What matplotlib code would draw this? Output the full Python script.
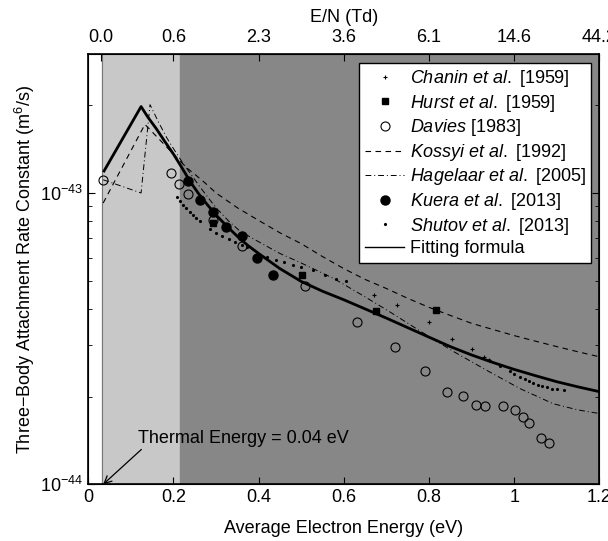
import numpy as np
import matplotlib
matplotlib.use("Agg")
import matplotlib.pyplot as plt

plt.rcParams['font.family'] = ['Liberation Sans', 'DejaVu Sans']
plt.rcParams['mathtext.fontset'] = 'custom'
plt.rcParams['mathtext.rm'] = 'Liberation Sans'
plt.rcParams['mathtext.it'] = 'Liberation Sans:italic'

# data (x in eV, y in m^6/s)
chanin_x = [0.671, 0.724, 0.799, 0.853, 0.900, 0.930, 0.940]
chanin_y = [4.47e-44, 4.13e-44, 3.60e-44, 3.16e-44, 2.92e-44, 2.73e-44, 2.67e-44]

hurst_x = [0.294, 0.501, 0.676, 0.816]
hurst_y = [7.89e-44, 5.22e-44, 3.92e-44, 3.97e-44]

davies_x = [0.035, 0.194, 0.214, 0.235, 0.292, 0.360, 0.509, 0.630, 0.721, 0.791,
            0.842, 0.879, 0.910, 0.932, 0.973, 1.001, 1.021, 1.036, 1.062, 1.083]
davies_y = [1.11e-43, 1.17e-43, 1.07e-43, 9.94e-44, 8.10e-44, 6.60e-44, 4.80e-44,
            3.60e-44, 2.96e-44, 2.45e-44, 2.08e-44, 2.01e-44, 1.87e-44, 1.86e-44,
            1.86e-44, 1.80e-44, 1.70e-44, 1.62e-44, 1.44e-44, 1.39e-44]

kossyi_x = [0.035, 0.133, 0.231, 0.25, 0.275, 0.30, 0.35, 0.40, 0.45, 0.50, 0.55,
            0.60, 0.65, 0.70, 0.75, 0.80, 0.85, 0.90, 0.95, 1.00, 1.05, 1.10, 1.15, 1.2]
kossyi_y = [9.24e-44, 1.72e-43, 1.22e-43, 1.16e-43, 1.08e-43, 1.0e-43, 8.9e-44,
            8.05e-44, 7.3e-44, 6.7e-44, 6.05e-44, 5.5e-44, 5.05e-44, 4.7e-44,
            4.35e-44, 4.05e-44, 3.8e-44, 3.57e-44, 3.4e-44, 3.24e-44, 3.1e-44,
            2.97e-44, 2.85e-44, 2.74e-44]

hagelaar_x = [0.035, 0.124, 0.145, 0.165, 0.184, 0.20, 0.22, 0.239, 0.26, 0.28, 0.30,
              0.33, 0.356, 0.40, 0.45, 0.50, 0.575, 0.65, 0.709, 0.779, 0.857,
              0.936, 1.014, 1.092, 1.15, 1.2]
hagelaar_y = [1.11e-43, 1.0e-43, 2.01e-43, 1.75e-43, 1.55e-43, 1.42e-43, 1.28e-43,
              1.17e-43, 1.06e-43, 9.7e-44, 8.9e-44, 8.0e-44, 7.4e-44, 6.8e-44,
              6.2e-44, 5.75e-44, 5.1e-44, 4.4e-44, 3.9e-44, 3.36e-44, 2.86e-44,
              2.46e-44, 2.13e-44, 1.89e-44, 1.8e-44, 1.75e-44]

kuera_x = [0.235, 0.262, 0.292, 0.323, 0.360, 0.397, 0.434]
kuera_y = [1.10e-43, 9.48e-44, 8.58e-44, 7.62e-44, 7.10e-44, 5.98e-44, 5.24e-44]

shutov_x = [0.208, 0.215, 0.222, 0.230, 0.238, 0.246, 0.254, 0.262,
            0.286, 0.300, 0.315, 0.330, 0.345, 0.360, 0.372,
            0.420, 0.440, 0.460, 0.480, 0.500, 0.528, 0.555, 0.581, 0.605,
            0.940, 0.966, 0.990, 1.000, 1.014, 1.025, 1.035, 1.045, 1.055,
            1.065, 1.077, 1.090, 1.100, 1.116]
shutov_y = [9.7e-44, 9.4e-44, 9.1e-44, 8.85e-44, 8.6e-44, 8.4e-44, 8.2e-44, 8.0e-44,
            7.5e-44, 7.3e-44, 7.1e-44, 6.95e-44, 6.8e-44, 6.65e-44, 6.55e-44,
            6.05e-44, 5.9e-44, 5.78e-44, 5.65e-44, 5.55e-44, 5.45e-44, 5.25e-44,
            5.06e-44, 4.97e-44,
            2.67e-44, 2.55e-44, 2.44e-44, 2.40e-44, 2.33e-44, 2.30e-44, 2.26e-44,
            2.23e-44, 2.20e-44, 2.18e-44, 2.15e-44, 2.13e-44, 2.12e-44, 2.11e-44]

fit_x = [0.037, 0.124, 0.14, 0.16, 0.18, 0.20, 0.22, 0.24, 0.26, 0.28, 0.30, 0.325,
         0.35, 0.375, 0.40, 0.45, 0.50, 0.55, 0.60, 0.65, 0.70, 0.75, 0.80, 0.85,
         0.90, 0.95, 1.00, 1.05, 1.10, 1.15, 1.20]
fit_y = [1.19e-43, 1.98e-43, 1.82e-43, 1.66e-43, 1.50e-43, 1.36e-43, 1.22e-43,
         1.09e-43, 9.9e-44, 9.1e-44, 8.4e-44, 7.7e-44, 7.1e-44, 6.6e-44, 6.2e-44,
         5.5e-44, 4.97e-44, 4.6e-44, 4.3e-44, 4.0e-44, 3.72e-44, 3.45e-44, 3.2e-44,
         2.97e-44, 2.78e-44, 2.62e-44, 2.48e-44, 2.36e-44, 2.25e-44, 2.16e-44, 2.08e-44]

top_pos = [0.03, 0.2, 0.4, 0.6, 0.8, 1.0, 1.2]
top_labels = ['0.0', '0.6', '2.3', '3.6', '6.1', '14.6', '44.2']

fig = plt.figure(figsize=(6.08, 5.41), dpi=100)
ax = fig.add_axes([0.1452, 0.1048, 0.8405, 0.7954])

ax.axvspan(0.032, 0.215, color='#c8c8c8', zorder=0)
ax.axvspan(0.215, 1.2, color='#878787', zorder=0)
ax.axvline(0.032, color='#777777', lw=0.8, zorder=0.5)

ax.plot(chanin_x, chanin_y, '+', color='k', ms=3, mew=0.8, ls='none',
        label=r'$\it{Chanin\ et\ al.}$ [1959]')
ax.plot(hurst_x, hurst_y, 's', color='k', ms=5, ls='none',
        label=r'$\it{Hurst\ et\ al.}$ [1959]')
ax.plot(davies_x, davies_y, 'o', mfc='none', mec='k', ms=6.5, mew=0.8, ls='none',
        label=r'$\it{Davies}$ [1983]')
ax.plot(kossyi_x, kossyi_y, '--', color='k', lw=0.8, dashes=(5, 4),
        label=r'$\it{Kossyi\ et\ al.}$ [1992]')
ax.plot(hagelaar_x, hagelaar_y, '-.', color='k', lw=0.7, dashes=(6, 3, 1, 3),
        label=r'$\it{Hagelaar\ et\ al.}$ [2005]')
ax.plot(kuera_x, kuera_y, 'o', color='k', ms=6.5, ls='none',
        label=r'$\it{Kuera\ et\ al.}$ [2013]')
ax.plot(shutov_x, shutov_y, '.', color='k', ms=2.5, ls='none',
        label=r'$\it{Shutov\ et\ al.}$ [2013]')
ax.plot(fit_x, fit_y, '-', color='k', lw=2, label='Fitting formula')

ax.set_yscale('log')
ax.set_xlim(0, 1.2)
ax.set_ylim(1e-44, 3e-43)
ax.set_xticks([0, 0.2, 0.4, 0.6, 0.8, 1.0, 1.2])
ax.set_xticklabels(['0', '0.2', '0.4', '0.6', '0.8', '1', '1.2'])
ax.set_yticks([1e-44, 1e-43])
ax.set_yticklabels([r'$10^{-44}$', r'$10^{-43}$'])
ax.tick_params(axis='both', which='both', direction='in', right=True, labelsize=13)
ax.tick_params(axis='x', top=False)
ax.tick_params(which='major', length=5)
ax.tick_params(which='minor', length=3)
ax.set_xlabel('Average Electron Energy (eV)', fontsize=13, labelpad=10)
ax.set_ylabel('Three\u2212Body Attachment Rate Constant (m$^6$/s)', fontsize=13)
ax.yaxis.set_label_coords(-0.10, 0.5)
for s in ax.spines.values():
    s.set_linewidth(1.2)

ax2 = ax.twiny()
ax2.set_xlim(0, 1.2)
ax2.set_xticks(top_pos)
ax2.set_xticklabels(top_labels)
ax2.tick_params(axis='x', direction='in', labelsize=13, length=5, pad=6)
ax2.set_xlabel('E/N (Td)', fontsize=13, labelpad=5)

ax.annotate('Thermal Energy = 0.04 eV', xy=(0.035, 1e-44), xytext=(0.117, 1.44e-44),
            fontsize=13, ha='left', va='center',
            arrowprops=dict(arrowstyle='->', color='k', lw=0.9, relpos=(0.03, 0.0),
                            shrinkA=0, shrinkB=0))

leg = ax.legend(loc='upper right', bbox_to_anchor=(0.984, 0.980), borderaxespad=0,
                fontsize=13, fancybox=False, framealpha=1, edgecolor='k',
                handlelength=2.2, labelspacing=0.2, borderpad=0.3, handletextpad=0.3)
leg.get_frame().set_linewidth(1.0)
leg.get_lines()[-1].set_linewidth(1.0)

fig.savefig('out.png', dpi=100)
